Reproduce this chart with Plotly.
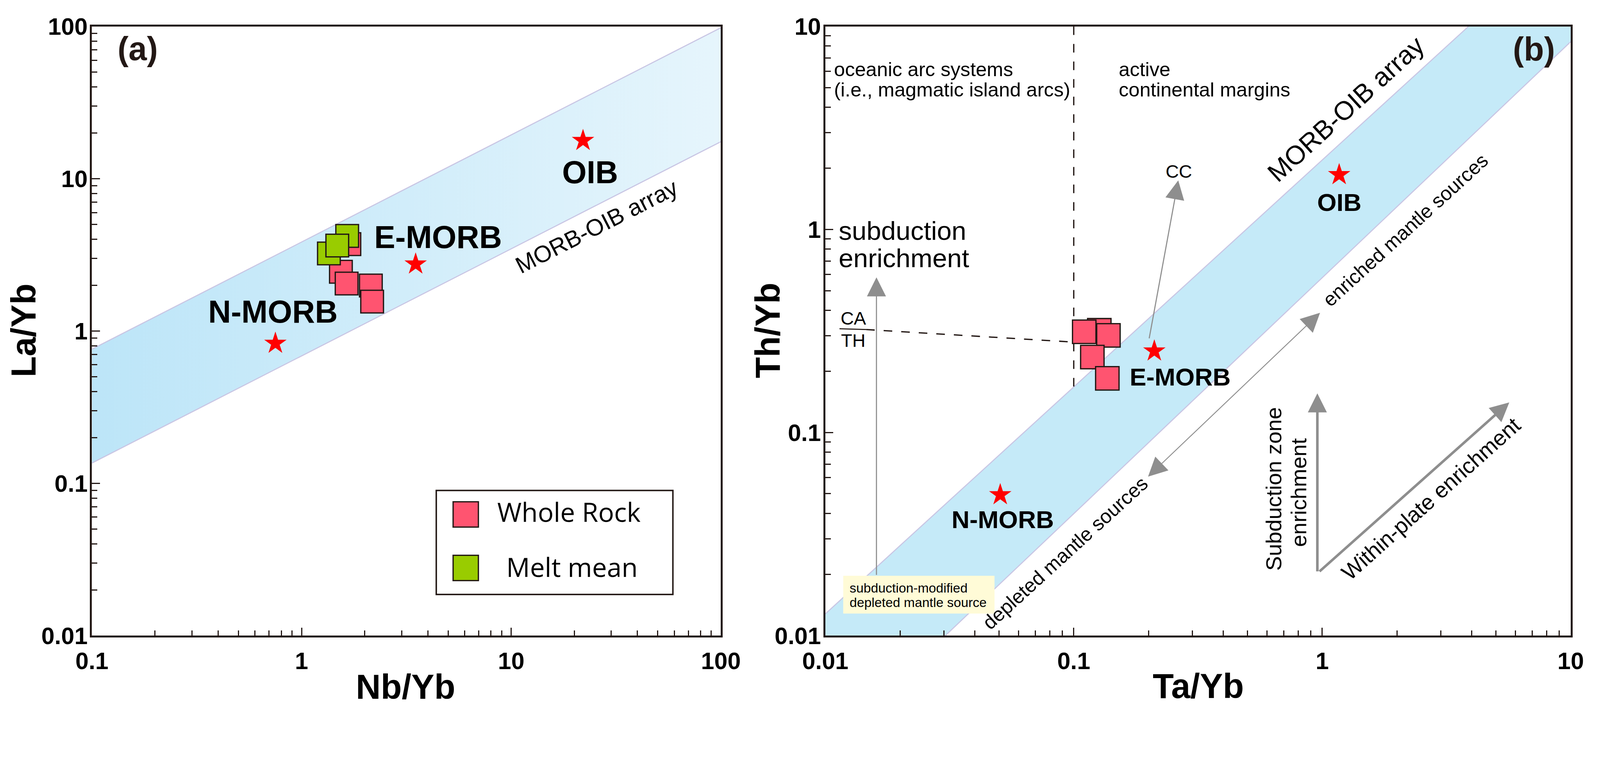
import numpy as np
import plotly.graph_objects as go

# ---------------- data ----------------
# Panel (a): Nb/Yb vs La/Yb
a_wr_nb = [1.69, 1.54, 1.64, 2.14, 2.17]
a_wr_la = [3.72, 2.45, 2.05, 1.99, 1.56]
a_mm_nb = [1.65, 1.35, 1.48]
a_mm_la = [4.21, 3.23, 3.64]
a_ref_names = ["OIB", "E-MORB", "N-MORB"]
a_ref_nb = [22.0, 3.5, 0.75]
a_ref_la = [17.8, 2.75, 0.83]
a_band_x = [0.1, 100]
a_band_upper = [0.76, 98]
a_band_lower = [0.136, 17.5]

# Panel (b): Ta/Yb vs Th/Yb
b_wr_ta = [0.1267, 0.1102, 0.1379, 0.1188, 0.1365]
b_wr_th = [0.319, 0.3135, 0.301, 0.2355, 0.185]
b_ref_names = ["OIB", "E-MORB", "N-MORB"]
b_ref_ta = [1.17, 0.211, 0.0506]
b_ref_th = [1.86, 0.252, 0.0494]
b_band_upper_x = [0.01, 3.88]
b_band_upper_y = [0.0128, 10]
b_band_lower_x = [0.0304, 10]
b_band_lower_y = [0.01, 8.4]
b_divider_x = [0.1, 0.1]
b_divider_y = [10, 0.167]
b_cath_bar_x = [0.01141, 0.0146]
b_cath_bar_y = [0.3245, 0.3216]
b_cath_x = [0.0146, 0.1]
b_cath_y = [0.3216, 0.279]

# arrows: tail x, tail y, head x, head y, line width, double-headed
b_arrows = [
    (0.01607, 0.0198, 0.01607, 0.581, 3, False),
    (0.201, 0.289, 0.2634, 1.745, 3, False),
    (0.198, 0.0603, 0.98, 0.389, 2.5, True),
    (0.956, 0.0206, 0.956, 0.156, 7, False),
    (0.97, 0.0206, 5.66, 0.1408, 7, False),
]

a_xticks = [0.1, 1, 10, 100]
a_yticks = [0.01, 0.1, 1, 10, 100]
b_xticks = [0.01, 0.1, 1, 10]
b_yticks = [0.01, 0.1, 1, 10]

DARK = "#231815"
PINK = "#FF5470"
GREEN = "#99CC00"
LAV = "#C9C6E4"
GRAY = "#8E8E8E"
FONT = "Arial, Liberation Sans, sans-serif"

# page geometry: the photographed viewport is 4096 css px wide, shown at 4368 px
Z = 4368.0 / 4096.0
W, H = 4080, 1800
BODY = 8


def px(X):
    return (X / Z - BODY) / W


def py(Y):
    return 1 - (Y / Z - BODY) / H


def s(v):
    return v / Z


def minor_vals(lo_exp, hi_exp):
    vals = []
    for e in range(lo_exp, hi_exp):
        for m in range(2, 10):
            vals.append(m * 10.0 ** e)
    return vals


def lg(v):
    return float(np.log10(v))


fig = go.Figure()

# ---------- panel (a) ----------
fig.add_trace(go.Scatter(
    x=a_band_x + a_band_x[::-1], y=a_band_upper + a_band_lower[::-1],
    fill="toself", mode="lines", line=dict(width=0),
    fillgradient=dict(type="horizontal",
                      colorscale=[[0, "#BCE5F8"], [1, "#E6F5FC"]]),
    xaxis="x", yaxis="y", hoverinfo="skip", showlegend=False))
for yy in (a_band_upper, a_band_lower):
    fig.add_trace(go.Scatter(x=a_band_x, y=yy, mode="lines",
                             line=dict(color=LAV, width=s(3)),
                             xaxis="x", yaxis="y", showlegend=False))
fig.add_trace(go.Scatter(x=a_ref_nb, y=a_ref_la, mode="markers",
                         marker=dict(symbol="star", size=s(46), color="#FF0000",
                                     line=dict(width=0)),
                         xaxis="x", yaxis="y", showlegend=False))
fig.add_trace(go.Scatter(x=a_wr_nb, y=a_wr_la, mode="markers", name="Whole Rock",
                         marker=dict(symbol="square", size=s(62), color=PINK,
                                     line=dict(color=DARK, width=s(3.5))),
                         xaxis="x", yaxis="y", showlegend=False))
fig.add_trace(go.Scatter(x=a_mm_nb, y=a_mm_la, mode="markers", name="Melt mean",
                         marker=dict(symbol="square", size=s(62), color=GREEN,
                                     line=dict(color=DARK, width=s(3.5))),
                         xaxis="x", yaxis="y", showlegend=False))

# ---------- panel (b) ----------
fig.add_trace(go.Scatter(
    x=[b_band_upper_x[0], b_band_upper_x[1], 10, b_band_lower_x[1], b_band_lower_x[0], 0.01],
    y=[b_band_upper_y[0], b_band_upper_y[1], 10, b_band_lower_y[1], b_band_lower_y[0], 0.01],
    fill="toself", mode="lines", line=dict(width=0), fillcolor="#C5EAF8",
    xaxis="x2", yaxis="y2", hoverinfo="skip", showlegend=False))
fig.add_trace(go.Scatter(x=b_band_upper_x, y=b_band_upper_y, mode="lines",
                         line=dict(color=LAV, width=s(3)), xaxis="x2", yaxis="y2",
                         showlegend=False))
fig.add_trace(go.Scatter(x=b_band_lower_x, y=b_band_lower_y, mode="lines",
                         line=dict(color=LAV, width=s(3)), xaxis="x2", yaxis="y2",
                         showlegend=False))
DASH = "%dpx,%dpx" % (round(s(23)), round(s(24)))
fig.add_trace(go.Scatter(x=b_divider_x, y=b_divider_y, mode="lines",
                         line=dict(color=DARK, width=s(3.5), dash=DASH),
                         xaxis="x2", yaxis="y2", showlegend=False))
fig.add_trace(go.Scatter(x=b_cath_bar_x, y=b_cath_bar_y, mode="lines",
                         line=dict(color=DARK, width=s(3)),
                         xaxis="x2", yaxis="y2", showlegend=False))
fig.add_trace(go.Scatter(x=b_cath_x, y=b_cath_y, mode="lines",
                         line=dict(color=DARK, width=s(3.5), dash=DASH),
                         xaxis="x2", yaxis="y2", showlegend=False))
fig.add_trace(go.Scatter(x=b_ref_ta, y=b_ref_th, mode="markers",
                         marker=dict(symbol="star", size=s(46), color="#FF0000",
                                     line=dict(width=0)),
                         xaxis="x2", yaxis="y2", showlegend=False))
fig.add_trace(go.Scatter(x=b_wr_ta, y=b_wr_th, mode="markers", name="Whole Rock",
                         marker=dict(symbol="square", size=s(64), color=PINK,
                                     line=dict(color=DARK, width=s(3.5))),
                         xaxis="x2", yaxis="y2", showlegend=False))


# ---------- axes ----------
def axis(rng, dom, tv, anchor, standoff):
    return dict(type="log", range=rng, domain=dom, anchor=anchor, automargin=False,
                showgrid=False, zeroline=False, showline=True, linecolor=DARK,
                linewidth=s(5), mirror=True, ticks="inside", ticklen=s(22),
                tickwidth=s(3), tickcolor=DARK, ticklabelstandoff=standoff,
                tickvals=tv, ticktext=[("%g" % v) for v in tv],
                tickfont=dict(family=FONT, size=s(65), color="black", weight="bold"),
                minor=dict(ticks="inside", ticklen=s(15), tickwidth=s(3), tickcolor=DARK,
                           tickvals=minor_vals(int(rng[0]), int(rng[1])), showgrid=False))


XA = [px(251), px(1968)]
XB = [px(2253), px(4288)]
YD = [py(1735.5), py(72)]
fig.update_layout(
    xaxis=axis([-1, 2], XA, a_xticks, "y", 8),
    yaxis=axis([-2, 2], YD, a_yticks, "x", -6),
    xaxis2=axis([-2, 1], XB, b_xticks, "y2", 8),
    yaxis2=axis([-2, 1], YD, b_yticks, "x2", -6),
)

ann = []


def txt(x, y, t, size, xref="x", yref="y", bold=False, angle=0, xanchor="center",
        yanchor="middle", color="black", family=FONT):
    if xref == "paper":
        x, y = px(x), py(y)
    else:
        x, y = lg(x), lg(y)
    ann.append(dict(x=x, y=y, xref=xref, yref=yref, text=("<b>%s</b>" % t) if bold else t,
                    showarrow=False, textangle=angle, xanchor=xanchor, yanchor=yanchor,
                    font=dict(family=family, size=s(size), color=color)))


# panel (a) texts
txt(0.1656, 71.3, "(a)", 90, bold=True, color=DARK)
txt(23.8, 11.03, "OIB", 86, bold=True)
txt(4.48, 4.14, "E-MORB", 86, bold=True)
txt(0.730, 1.338, "N-MORB", 86, bold=True)
txt(25.6, 4.86, "MORB-OIB array", 64, angle=-27)
# panel (b) texts
txt(7.12, 7.73, "(b)", 90, xref="x2", yref="y2", bold=True, color=DARK)
txt(1.17, 1.361, "OIB", 68, xref="x2", yref="y2", bold=True)
txt(0.268, 0.188, "E-MORB", 68, xref="x2", yref="y2", bold=True)
txt(0.0517, 0.0374, "N-MORB", 68, xref="x2", yref="y2", bold=True)
txt(0.2647, 1.932, "CC", 50, xref="x2", yref="y2")
txt(0.01077, 6.15, "oceanic arc systems", 54, xref="x2", yref="y2", xanchor="left")
txt(0.01077, 4.876, "(i.e., magmatic island arcs)", 54, xref="x2", yref="y2", xanchor="left")
txt(0.1507, 6.15, "active", 54, xref="x2", yref="y2", xanchor="left")
txt(0.1507, 4.876, "continental margins", 54, xref="x2", yref="y2", xanchor="left")
txt(0.01126, 0.986, "subduction", 72, xref="x2", yref="y2", xanchor="left")
txt(0.01126, 0.7225, "enrichment", 72, xref="x2", yref="y2", xanchor="left")
txt(0.01299, 0.3657, "CA", 50, xref="x2", yref="y2")
txt(0.01299, 0.2838, "TH", 50, xref="x2", yref="y2")
txt(1.245, 3.93, "MORB-OIB array", 72, xref="x2", yref="y2", angle=-42.4)
txt(2.164, 0.9947, "enriched mantle sources", 54, xref="x2", yref="y2", angle=-42.4)
txt(0.0924, 0.02556, "depleted mantle sources", 54, xref="x2", yref="y2", angle=-42.4)
txt(0.6375, 0.0528, "Subduction zone", 60, xref="x2", yref="y2", angle=-90)
txt(0.806, 0.0507, "enrichment", 60, xref="x2", yref="y2", angle=-90)
txt(2.745, 0.0472, "Within-plate enrichment", 60, xref="x2", yref="y2", angle=-41.8)

# axis titles (reference pixel positions)
txt(1107, 1875, "Nb/Yb", 94, xref="paper", yref="paper", bold=True)
txt(3271, 1873, "Ta/Yb", 94, xref="paper", yref="paper", bold=True)
txt(65, 902, "La/Yb", 94, xref="paper", yref="paper", bold=True, angle=-90)
txt(2096, 902, "Th/Yb", 94, xref="paper", yref="paper", bold=True, angle=-90)

# yellow note box text
txt(2317, 1605, "subduction-modified", 36, xref="paper", yref="paper", xanchor="left")
txt(2317, 1644, "depleted mantle source", 36, xref="paper", yref="paper", xanchor="left")

# legend text (a)
LEGF = "Open Sans, Lato, sans-serif"
txt(1355, 1397, "Whole Rock", 72, xref="paper", yref="paper", xanchor="left", family=LEGF)
txt(1380, 1547, "Melt mean", 72, xref="paper", yref="paper", xanchor="left", family=LEGF)

# arrows (panel b)
for tx, ty, hx, hy, w, both in b_arrows:
    size = 52.0 / 5.0 / w
    a = dict(x=lg(hx), y=lg(hy), ax=lg(tx), ay=lg(ty), xref="x2", yref="y2",
             axref="x2", ayref="y2", text="", showarrow=True, arrowhead=2,
             arrowsize=size, arrowwidth=s(w), arrowcolor=GRAY, standoff=0)
    if both:
        a.update(arrowside="end+start", startarrowhead=2, startarrowsize=size,
                 startstandoff=0)
    ann.append(a)


def rect(x0, x1, y0, y1, **kw):
    return dict(type="rect", xref="paper", yref="paper", x0=px(x0), x1=px(x1),
                y0=py(y1), y1=py(y0), **kw)


shapes = [
    rect(1191, 1837, 1339, 1623, line=dict(color=DARK, width=s(4)), fillcolor="white"),
    rect(1237, 1306, 1370, 1439, line=dict(color=DARK, width=s(3.5)), fillcolor=PINK),
    rect(1237, 1306, 1516, 1585, line=dict(color=DARK, width=s(3.5)), fillcolor=GREEN),
    rect(2302, 2715, 1572, 1675, line=dict(width=0), fillcolor="#FFFBD7"),
]

fig.update_layout(
    width=W, height=H, margin=dict(l=0, r=0, t=0, b=0),
    paper_bgcolor="white", plot_bgcolor="white", showlegend=False,
    annotations=ann, shapes=shapes,
)

fig.write_html("out.html")
